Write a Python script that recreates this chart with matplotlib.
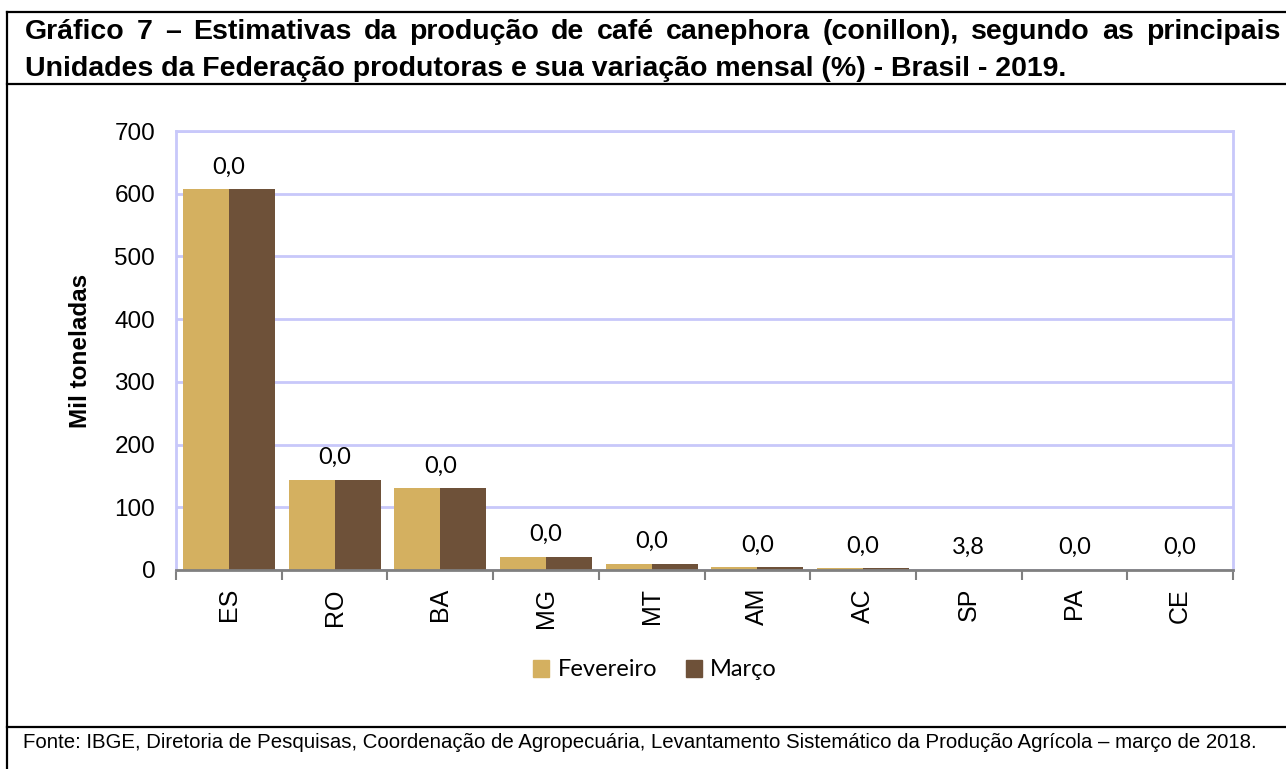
import numpy as np
import matplotlib.pyplot as plt
from matplotlib.lines import Line2D
from matplotlib.patches import Patch

# dados
ufs = ['ES', 'RO', 'BA', 'MG', 'MT', 'AM', 'AC', 'SP', 'PA', 'CE']
fevereiro = [607, 144, 130, 21, 10, 4, 3, 0.5, 0.3, 0.2]
marco = [607, 144, 130, 21, 10, 4, 3, 0.52, 0.3, 0.2]
variacao = ['0,0', '0,0', '0,0', '0,0', '0,0', '0,0', '0,0', '3,8', '0,0', '0,0']

titulo1 = 'Gráfico 7 – Estimativas da produção de café canephora (conillon), segundo as principais'
titulo2 = 'Unidades da Federação produtoras e sua variação mensal (%) - Brasil - 2019.'
fonte = ('Fonte: IBGE, Diretoria de Pesquisas, Coordenação de Agropecuária, '
         'Levantamento Sistemático da Produção Agrícola – março de 2018.')

cor_fev = '#D4B060'
cor_mar = '#6E5139'
cor_grade = '#C8C8FA'

W, H = 1286, 769
fig = plt.figure(figsize=(W / 100, H / 100), dpi=100)
ax = fig.add_axes([176 / W, 1 - 570 / H, (1233 - 176) / W, (570 - 131) / H])
r = fig.canvas.get_renderer()

x = np.arange(len(ufs))
w = 0.435
ax.bar(x - w / 2, fevereiro, w, color=cor_fev, zorder=2)
ax.bar(x + w / 2, marco, w, color=cor_mar, zorder=2)

for i, lab in enumerate(variacao):
    top = max(fevereiro[i], marco[i])
    ax.annotate(lab, (x[i], top), xytext=(0, 16), textcoords='offset points',
                ha='center', va='center', fontsize=17, family='Lato')

ax.set_xlim(-0.5, len(ufs) - 0.5)
ax.set_ylim(0, 700)
ax.set_yticks(range(0, 701, 100))
ax.yaxis.grid(True, color=cor_grade, lw=2, zorder=0)
ax.tick_params(axis='y', length=0, pad=15, labelsize=17.5)
for t in ax.get_yticklabels():
    t.set_family('Liberation Sans')

# ticks nas fronteiras, rotulos no centro
ax.set_xticks(np.arange(-0.5, len(ufs), 1))
ax.set_xticklabels([])
ax.tick_params(axis='x', which='major', length=7, width=1.5, color='#808080')
ax.set_xticks(x, minor=True)
ax.set_xticklabels(ufs, minor=True, rotation=90, fontsize=18, family='Liberation Sans')
ax.tick_params(axis='x', which='minor', length=0, pad=13)

for s in ['left', 'right', 'top']:
    ax.spines[s].set_color(cor_grade)
    ax.spines[s].set_linewidth(2)
ax.spines['bottom'].set_color('#808080')
ax.spines['bottom'].set_linewidth(2)
ax.spines['bottom'].set_zorder(3)

ax.set_ylabel('Mil toneladas', fontsize=17.5, fontweight='bold', family='Liberation Sans')
ax.yaxis.set_label_coords((92 - 176) / (1233 - 176), 0.5)

handles = [Patch(color=cor_fev, label='Fevereiro'), Patch(color=cor_mar, label='Março')]
fig.legend(handles=handles, loc='center', bbox_to_anchor=(655 / W, 1 - 670 / H), ncol=2,
           frameon=False, prop={'family': 'Lato', 'size': 17}, handlelength=0.7,
           handleheight=0.7, handletextpad=0.35, columnspacing=1.2)

# titulo: linha 1 justificada entre x=25 e x=1280
tkw = dict(fontsize=20.5, fontweight='bold', family='Liberation Sans', va='baseline', ha='left')
palavras = titulo1.split(' ')
txts = [fig.text(0, 1 - 39 / H, p, **tkw) for p in palavras]
larg = [t.get_window_extent(r).width for t in txts]
gap = (1280 - 25 - sum(larg)) / (len(palavras) - 1)
pos = 25
for t, lw in zip(txts, larg):
    t.set_x(pos / W)
    pos += lw + gap
fig.text(25 / W, 1 - 76 / H, titulo2, **tkw)

# fonte ajustada a largura da caixa
ft = fig.text(23 / W, 1 - 748 / H, fonte, fontsize=10, family='Liberation Sans',
              va='baseline', ha='left')
ft.set_fontsize(10 * (1256 - 23) / ft.get_window_extent(r).width)

# moldura
for y in [12, 84, 727]:
    fig.add_artist(Line2D([7 / W, 1], [1 - y / H, 1 - y / H], color='black', lw=1.6))
fig.add_artist(Line2D([7 / W, 7 / W], [1 - 12 / H, 0], color='black', lw=1.6))

fig.savefig('out.png', dpi=100)
